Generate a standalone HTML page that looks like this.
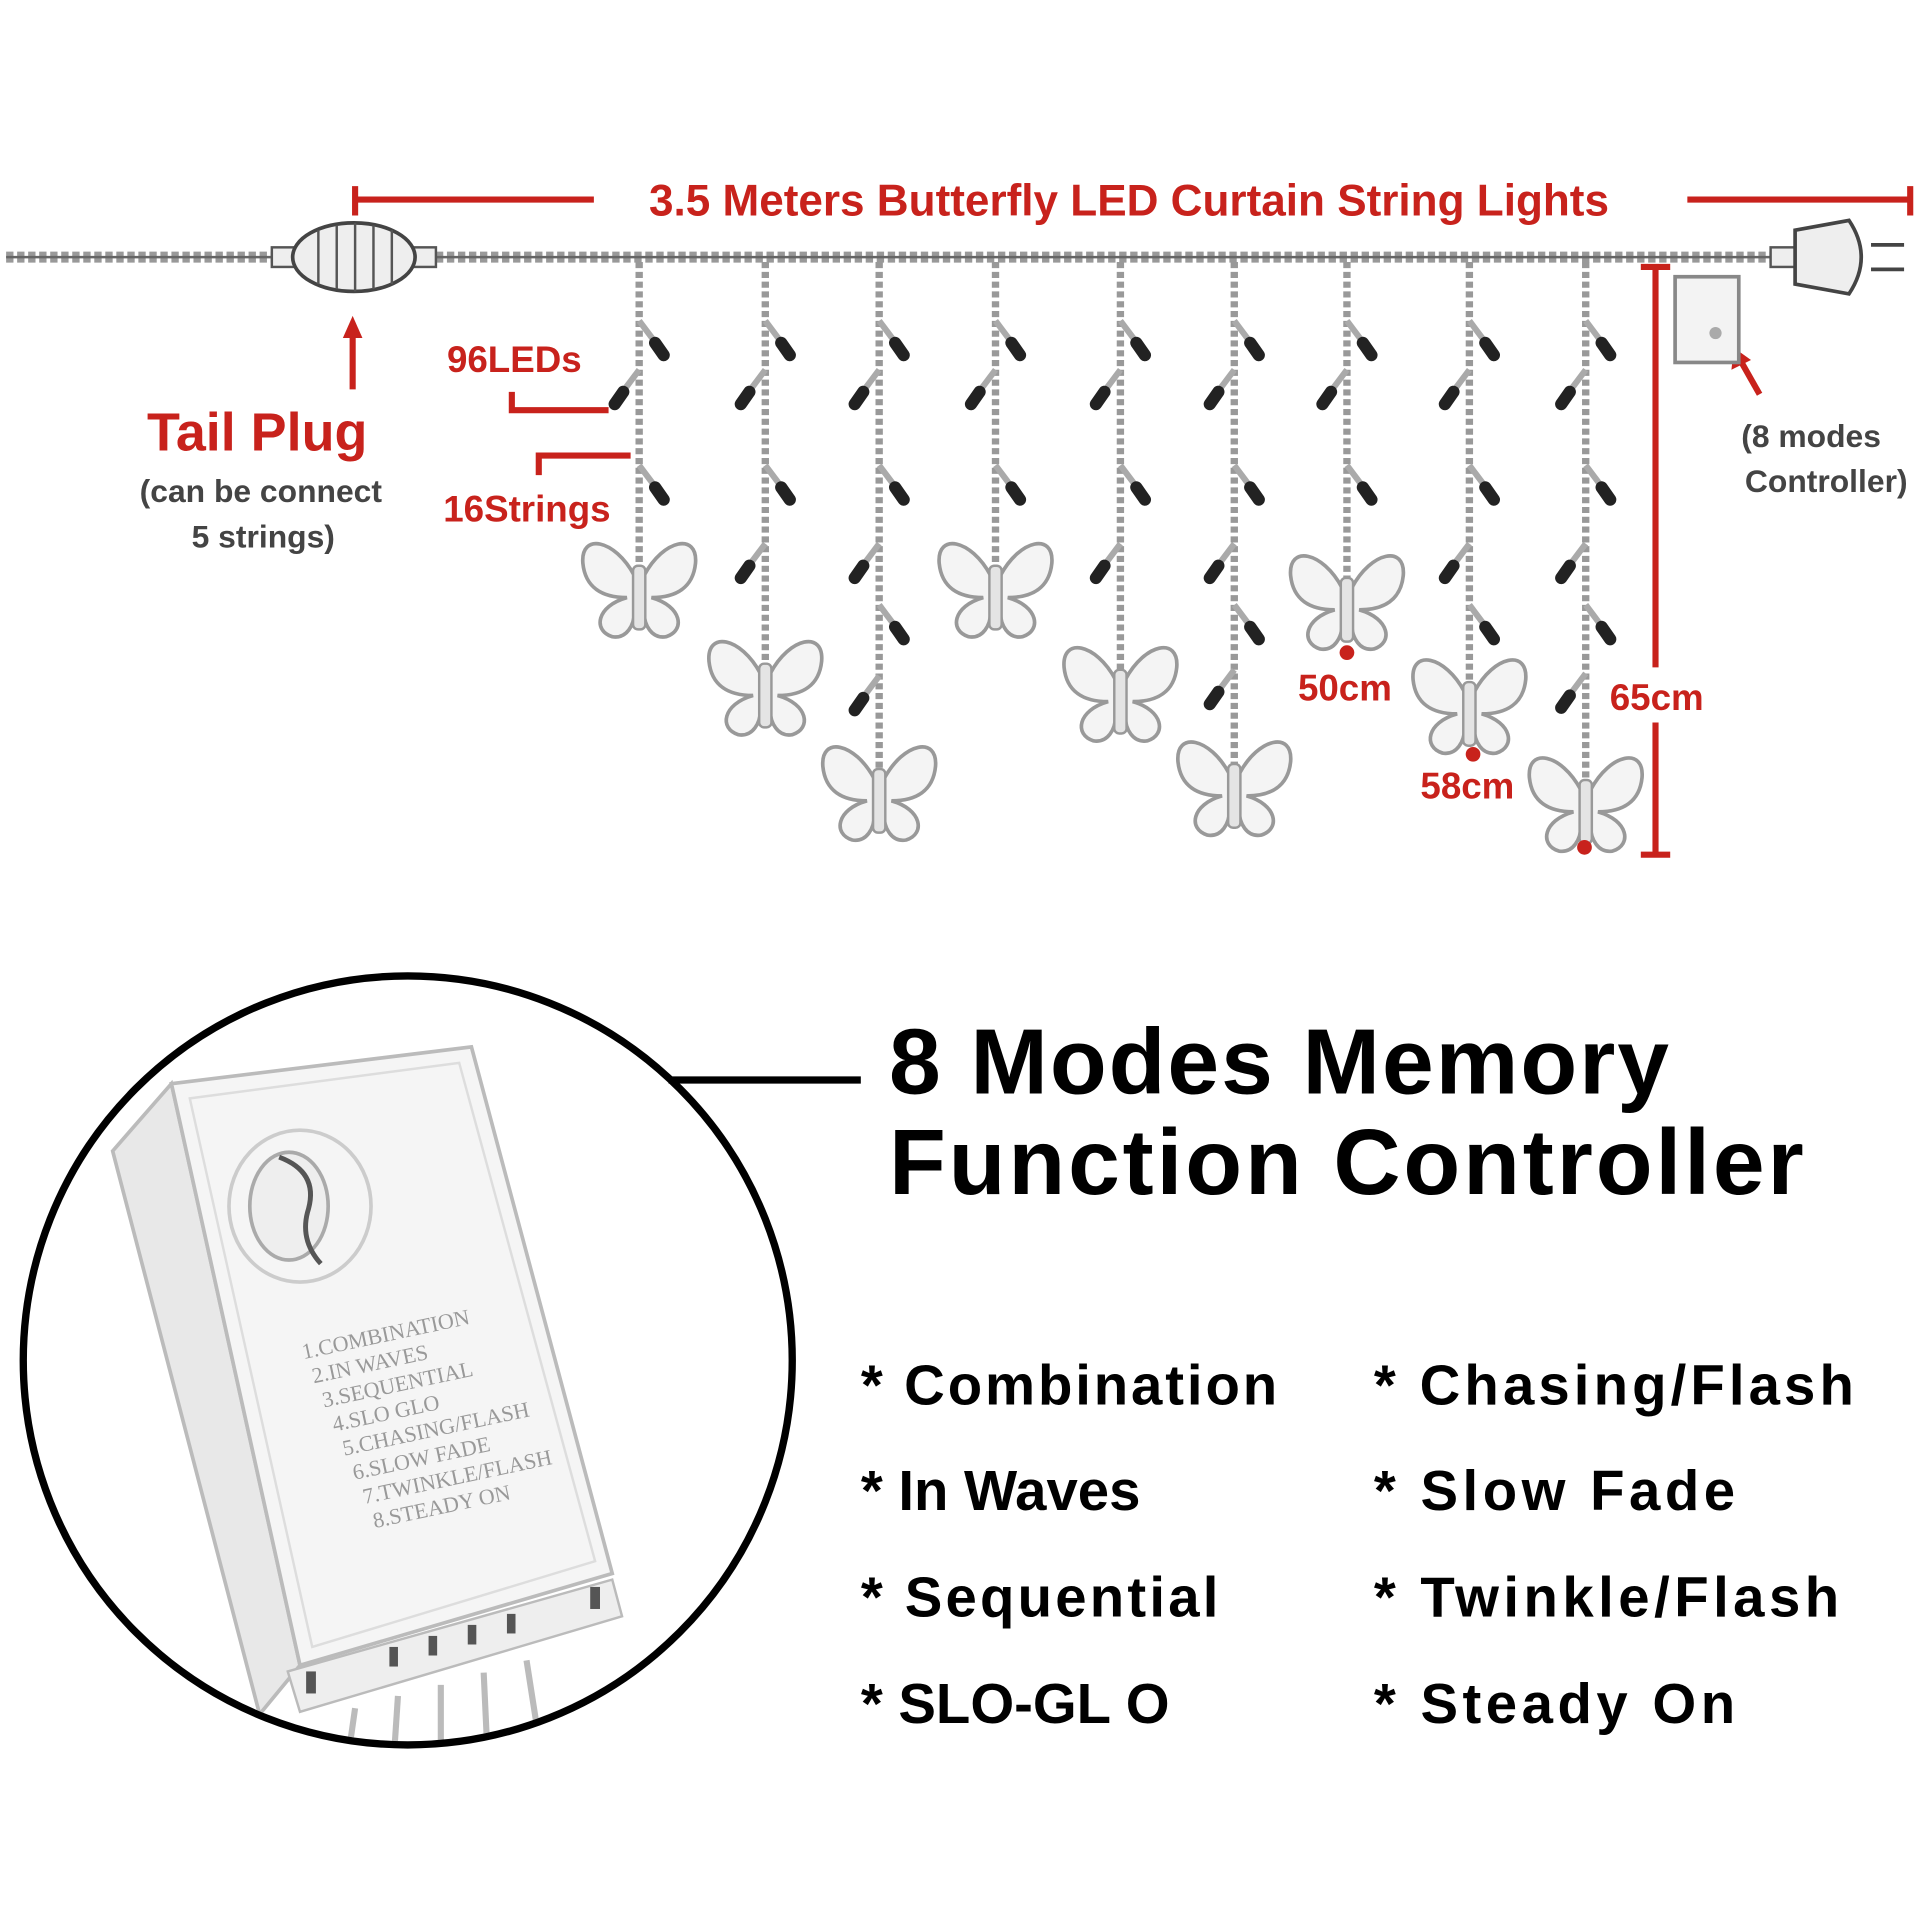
<!DOCTYPE html>
<html><head><meta charset="utf-8"><style>
html,body{margin:0;padding:0;background:#fff;}
svg{display:block;}
.r{fill:#c8221c;font-family:"Liberation Sans",sans-serif;font-weight:bold;}
.g{fill:#444;font-family:"Liberation Sans",sans-serif;font-weight:bold;}
.k{fill:#000;font-family:"Liberation Sans",sans-serif;font-weight:bold;}
</style></head><body>
<svg width="1920" height="1920" viewBox="0 0 1568 1568" xmlns="http://www.w3.org/2000/svg">
<defs>
<g id="bf">
 <path d="M-4,0 C-20,-30 -48,-35 -46,-10 C-44,10 -30,18 -10,18 C-35,25 -38,45 -22,50 C-10,52 -4,40 -4,30Z" fill="#f4f4f4" stroke="#999" stroke-width="3"/>
 <path d="M4,0 C20,-30 48,-35 46,-10 C44,10 30,18 10,18 C35,25 38,45 22,50 C10,52 4,40 4,30Z" fill="#f4f4f4" stroke="#999" stroke-width="3"/>
 <rect x="-5" y="-8" width="10" height="52" rx="4" fill="#e4e4e4" stroke="#999" stroke-width="2"/>
</g>
<g id="lr"><line x1="0" y1="0" x2="12" y2="16" stroke="#aaa" stroke-width="5"/><line x1="13" y1="18" x2="20" y2="28" stroke="#222" stroke-width="10" stroke-linecap="round"/></g>
<g id="ll"><line x1="0" y1="0" x2="-12" y2="16" stroke="#aaa" stroke-width="5"/><line x1="-13" y1="18" x2="-20" y2="28" stroke="#222" stroke-width="10" stroke-linecap="round"/></g>
<clipPath id="cc"><circle cx="333" cy="1111" r="311"/></clipPath>
</defs>
<rect width="1568" height="1568" fill="#fff"/>
<g stroke="#c8221c" stroke-width="5" fill="none">
<line x1="290" y1="163" x2="485" y2="163"/><line x1="290" y1="152" x2="290" y2="176"/>
<line x1="1378" y1="163" x2="1560" y2="163"/><line x1="1560" y1="152" x2="1560" y2="176"/>
<line x1="1352" y1="218" x2="1352" y2="545"/><line x1="1352" y1="590" x2="1352" y2="698"/>
<line x1="1340" y1="218" x2="1364" y2="218"/><line x1="1340" y1="698" x2="1364" y2="698"/>
<line x1="288" y1="265" x2="288" y2="318"/>
<polyline points="497,335 418,335 418,320"/><polyline points="515,372 440,372 440,388"/>
<line x1="1437" y1="322" x2="1420" y2="292"/>
</g>
<polygon points="288,258 280,276 296,276" fill="#c8221c"/>
<polygon points="1416,284 1414,302 1430,294" fill="#c8221c"/>
<text x="922" y="176" text-anchor="middle" class="r" font-size="36">3.5 Meters Butterfly LED Curtain String Lights</text>
<line x1="5" y1="210" x2="1450" y2="210" stroke="#999" stroke-width="9" stroke-dasharray="6 3"/>
<line x1="5" y1="210" x2="1450" y2="210" stroke="#666" stroke-width="2"/>
<rect x="222" y="202" width="20" height="16" fill="#eee" stroke="#555" stroke-width="2"/>
<rect x="336" y="202" width="20" height="16" fill="#eee" stroke="#555" stroke-width="2"/>
<ellipse cx="289" cy="210" rx="50" ry="28" fill="#eee" stroke="#444" stroke-width="3"/>
<g stroke="#555" stroke-width="2"><line x1="260" y1="188" x2="260" y2="232"/><line x1="275" y1="184" x2="275" y2="236"/><line x1="290" y1="182" x2="290" y2="238"/><line x1="305" y1="184" x2="305" y2="236"/><line x1="320" y1="188" x2="320" y2="232"/></g>
<rect x="1446" y="202" width="20" height="16" fill="#eee" stroke="#555" stroke-width="2"/>
<path d="M1466,188 L1510,180 Q1530,210 1510,240 L1466,232Z" fill="#eee" stroke="#444" stroke-width="3"/>
<line x1="1528" y1="200" x2="1555" y2="200" stroke="#444" stroke-width="3"/><line x1="1528" y1="220" x2="1555" y2="220" stroke="#444" stroke-width="3"/>
<rect x="1368" y="226" width="52" height="70" fill="#f3f3f3" stroke="#888" stroke-width="3"/>
<circle cx="1401" cy="272" r="5" fill="#aaa"/>
<g stroke="#999" stroke-width="6" stroke-dasharray="5 3">
<line x1="522" y1="214" x2="522" y2="470"/><line x1="625" y1="214" x2="625" y2="550"/><line x1="718" y1="214" x2="718" y2="635"/>
<line x1="813" y1="214" x2="813" y2="470"/><line x1="915" y1="214" x2="915" y2="555"/><line x1="1008" y1="214" x2="1008" y2="632"/>
<line x1="1100" y1="214" x2="1100" y2="480"/><line x1="1200" y1="214" x2="1200" y2="565"/><line x1="1295" y1="214" x2="1295" y2="645"/>
</g>
<use href="#lr" x="522" y="262"/><use href="#ll" x="522" y="302"/><use href="#lr" x="522" y="380"/>
<use href="#lr" x="625" y="262"/><use href="#ll" x="625" y="302"/><use href="#lr" x="625" y="380"/><use href="#ll" x="625" y="444"/>
<use href="#lr" x="718" y="262"/><use href="#ll" x="718" y="302"/><use href="#lr" x="718" y="380"/><use href="#ll" x="718" y="444"/><use href="#lr" x="718" y="494"/><use href="#ll" x="718" y="552"/>
<use href="#lr" x="813" y="262"/><use href="#ll" x="813" y="302"/><use href="#lr" x="813" y="380"/>
<use href="#lr" x="915" y="262"/><use href="#ll" x="915" y="302"/><use href="#lr" x="915" y="380"/><use href="#ll" x="915" y="444"/>
<use href="#lr" x="1008" y="262"/><use href="#ll" x="1008" y="302"/><use href="#lr" x="1008" y="380"/><use href="#ll" x="1008" y="444"/><use href="#lr" x="1008" y="494"/><use href="#ll" x="1008" y="547"/>
<use href="#lr" x="1100" y="262"/><use href="#ll" x="1100" y="302"/><use href="#lr" x="1100" y="380"/>
<use href="#lr" x="1200" y="262"/><use href="#ll" x="1200" y="302"/><use href="#lr" x="1200" y="380"/><use href="#ll" x="1200" y="444"/><use href="#lr" x="1200" y="494"/>
<use href="#lr" x="1295" y="262"/><use href="#ll" x="1295" y="302"/><use href="#lr" x="1295" y="380"/><use href="#ll" x="1295" y="444"/><use href="#lr" x="1295" y="494"/><use href="#ll" x="1295" y="550"/>
<use href="#bf" x="522" y="470"/><use href="#bf" x="625" y="550"/><use href="#bf" x="718" y="636"/>
<use href="#bf" x="813" y="470"/><use href="#bf" x="915" y="555"/><use href="#bf" x="1008" y="632"/>
<use href="#bf" x="1100" y="480"/><use href="#bf" x="1200" y="565"/><use href="#bf" x="1295" y="645"/>
<circle cx="1100" cy="533" r="6" fill="#c8221c"/><circle cx="1203" cy="616" r="6" fill="#c8221c"/><circle cx="1294" cy="692" r="6" fill="#c8221c"/>
<text x="365" y="304" class="r" font-size="30">96LEDs</text>
<text x="362" y="426" class="r" font-size="30">16Strings</text>
<text x="120" y="368" class="r" font-size="44">Tail  Plug</text>
<text x="213" y="410" text-anchor="middle" class="g" font-size="26">(can be connect</text>
<text x="215" y="447" text-anchor="middle" class="g" font-size="26">5 strings)</text>
<text x="1060" y="572" class="r" font-size="30">50cm</text>
<text x="1160" y="652" class="r" font-size="30">58cm</text>
<text x="1353" y="580" text-anchor="middle" class="r" font-size="30">65cm</text>
<text x="1422" y="365" class="g" font-size="26">(8 modes</text>
<text x="1425" y="402" class="g" font-size="26">Controller)</text>
<!-- controller -->
<g clip-path="url(#cc)">
<polygon points="92,940 140,885 245,1360 212,1400" fill="#e8e8e8" stroke="#bbb" stroke-width="3"/>
<polygon points="140,885 385,855 500,1285 245,1360" fill="#f5f5f5" stroke="#bbb" stroke-width="3"/>
<polygon points="155,897 375,868 486,1275 255,1345" fill="none" stroke="#ddd" stroke-width="2"/>
<ellipse cx="245" cy="985" rx="58" ry="62" fill="none" stroke="#ccc" stroke-width="3"/>
<ellipse cx="236" cy="985" rx="32" ry="44" fill="#eee" stroke="#aaa" stroke-width="3"/>
<path d="M228,945 q32,12 24,42 q-8,25 10,45" fill="none" stroke="#555" stroke-width="4"/>
<g fill="#999" font-family="Liberation Serif,serif" font-size="18" transform="rotate(-12 248 1110)">
<text x="248" y="1110">1.COMBINATION</text><text x="252" y="1131">2.IN WAVES</text><text x="256" y="1152">3.SEQUENTIAL</text><text x="260" y="1173">4.SLO GLO</text><text x="264" y="1194">5.CHASING/FLASH</text><text x="268" y="1215">6.SLOW FADE</text><text x="272" y="1236">7.TWINKLE/FLASH</text><text x="276" y="1257">8.STEADY ON</text>
</g>
<polygon points="235,1365 500,1290 508,1320 245,1398" fill="#eee" stroke="#bbb" stroke-width="2"/>
<g fill="#555"><rect x="250" y="1365" width="8" height="18"/><rect x="318" y="1345" width="7" height="16"/><rect x="350" y="1336" width="7" height="16"/><rect x="382" y="1327" width="7" height="16"/><rect x="414" y="1318" width="7" height="16"/><rect x="482" y="1296" width="8" height="18"/></g>
<g stroke="#bbb" stroke-width="5"><line x1="290" y1="1395" x2="285" y2="1430"/><line x1="325" y1="1385" x2="322" y2="1430"/><line x1="360" y1="1376" x2="360" y2="1430"/><line x1="395" y1="1366" x2="398" y2="1430"/><line x1="430" y1="1356" x2="440" y2="1420"/></g>
</g>
<circle cx="333" cy="1111" r="314" fill="none" stroke="#000" stroke-width="6"/>
<line x1="546" y1="882" x2="703" y2="882" stroke="#000" stroke-width="6"/>
<text x="726" y="893" class="k" font-size="76" letter-spacing="3" textLength="640">8 Modes Memory</text>
<text x="726" y="975" class="k" font-size="76" letter-spacing="3" textLength="750">Function Controller</text>
<g class="k" font-size="46" fill="#111">
<text x="703" y="1147" textLength="340">* Combination</text>
<text x="703" y="1233">* In Waves</text>
<text x="703" y="1320" textLength="292">* Sequential</text>
<text x="703" y="1407">* SLO-GL O</text>
<text x="1122" y="1147" textLength="392">* Chasing/Flash</text>
<text x="1122" y="1233" textLength="295">* Slow Fade</text>
<text x="1122" y="1320" textLength="380">* Twinkle/Flash</text>
<text x="1122" y="1407" textLength="295">* Steady On</text>
</g>
</svg>
</body></html>
